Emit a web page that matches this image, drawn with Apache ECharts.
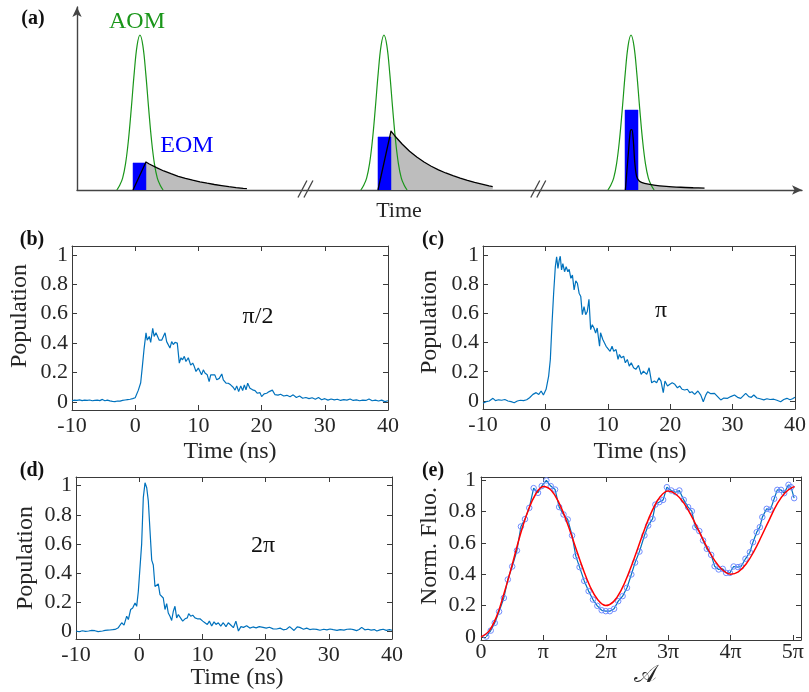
<!DOCTYPE html>
<html><head><meta charset="utf-8">
<script src="https://cdn.jsdelivr.net/npm/echarts@6/dist/echarts.min.js"></script>
<style>html,body{margin:0;padding:0;background:#fff}#c{width:809px;height:692px}</style>
</head><body><div id="c"></div>
<script>
// ---------- Panel (a) schematic (arbitrary units) ----------
const aomCenters = [8.71, 42.46, 76.63];
const aomOffsets = [-3.2,-2.8,-2.4,-2.0,-1.6,-1.2,-0.8,-0.4,0,0.4,0.8,1.2,1.6,2.0,2.4,2.8,3.2];
const aomShape   = [0.0,0.026,0.065,0.143,0.271,0.446,0.637,0.789,0.847,0.789,0.637,0.446,0.271,0.143,0.065,0.026,0.0];
const eomLeft   = [7.75, 41.63, 75.8];
const eomRight  = [9.54, 43.43, 77.6];
const eomHeight = [0.148, 0.290, 0.437];
const resp1X = [7.75,9.54,10,11,12,13,14,15,16,17,18,19,20,21,22,23,23.5];
const resp1Y = [0,0.153,0.142,0.122,0.104,0.089,0.075,0.064,0.054,0.045,0.037,0.030,0.024,0.018,0.013,0.009,0.008];
const resp2X = [41.63,43.43,44,45,46,47,48,49,50,51,52,53,54,55,56,57,57.5];
const resp2Y = [0,0.322,0.294,0.25,0.212,0.18,0.153,0.13,0.11,0.093,0.078,0.065,0.053,0.042,0.032,0.022,0.018];
const resp3X = [75.85,76.3,76.55,76.75,76.95,77.15,77.4,77.8,78.5,79.8,81.5,83.5,85.3,86.8];
const resp3Y = [0,0.22,0.325,0.33,0.27,0.15,0.075,0.048,0.036,0.027,0.02,0.015,0.012,0.01];
const breakX = [31.6, 63.8];

// ---------- Panel (b) pi/2 ----------
const bTime = [-10,-9.6,-9.2,-8.8,-8.4,-8,-7.6,-7.2,-6.8,-6.4,-6,-5.6,-5.2,-4.8,-4.4,-4,-3.6,-3.2,-2.8,-2.4,-2,-1.6,-1.2,-0.8,-0.4,
 0,0.24,0.5,0.87,1.13,1.39,1.71,1.9,2.23,2.45,
 2.77,3.0,3.29,3.55,3.8,4.19,4.45,4.72,4.98,5.24,
 5.5,5.77,6.03,6.3,6.66,6.98,7.25,7.5,7.77,8.03,
 8.4,8.78,9.1,9.35,9.62,9.99,10.25,10.5,10.78,11.04,
 11.4,11.7,11.95,12.26,12.6,12.9,13.3,13.7,13.94,14.37,
 14.73,15.1,15.5,15.8,16.06,16.37,16.7,17.0,17.27,17.53,
 17.8,18.16,18.58,18.96,19.3,19.75,20.0,20.4,20.8,21.2,
 21.7,22.1,22.6,23.0,23.5,24,24.5,25,25.5,26,
 26.5,27,27.5,28,28.5,29,29.5,30,30.5,31,31.5,32,32.5,33,33.5,34,34.5,35,35.5,36,36.5,37,37.5,38,38.5,39,39.5,40];
const bValue = [0.008,0.012,0.010,0.014,0.009,0.012,0.010,0.013,0.008,0.011,0.012,0.009,0.017,0.008,0.012,0.007,0.004,0.002,0.006,0.005,0.010,0.013,0.016,0.018,0.022,
 0.028,0.036,0.08,0.13,0.24,0.355,0.47,0.42,0.445,0.404,
 0.50,0.445,0.47,0.457,0.42,0.42,0.43,0.47,0.41,0.40,
 0.366,0.41,0.39,0.405,0.40,0.264,0.30,0.286,0.31,0.275,
 0.30,0.25,0.264,0.24,0.207,0.23,0.218,0.184,0.218,0.196,
 0.184,0.138,0.184,0.172,0.184,0.15,0.16,0.19,0.15,0.127,
 0.127,0.116,0.10,0.08,0.109,0.07,0.109,0.077,0.116,0.082,
 0.127,0.093,0.082,0.077,0.059,0.063,0.036,0.055,0.059,0.07,
 0.08,0.05,0.046,0.052,0.04,0.045,0.035,0.048,0.03,0.04,
 0.025,0.03,0.022,0.028,0.018,0.03,0.015,0.022,0.012,0.02,0.014,0.018,0.01,0.016,0.012,0.02,0.01,0.014,0.008,0.012,0.01,0.02,0.008,0.012,0.006,0.012,0.002,0.008];

// ---------- Panel (c) pi ----------
const cTime = [-10,-9.5,-9,-8.4,-8,-7.5,-7,-6.5,-6,-5.5,-5,-4.5,-4,-3.5,-3,
 -2.54,-2.0,-1.48,-1.06,-0.68,-0.32,0.11,0.52,0.79,1.06,
 1.32,1.59,1.8,2.01,2.22,2.38,2.59,2.8,3.07,3.33,
 3.6,3.81,4.08,4.33,4.6,4.87,5.13,5.4,5.67,5.92,
 6.19,6.46,6.71,6.98,7.25,7.51,7.78,8.05,8.3,8.68,
 8.84,9.2,9.52,9.73,10.05,10.37,10.68,10.95,11.32,11.64,
 11.86,12.17,12.54,12.81,13.13,13.44,13.76,14.13,14.49,14.92,
 15.35,15.71,15.98,16.24,16.62,17.03,17.46,17.83,18.2,18.52,
 18.89,19.16,19.57,19.95,20.32,20.74,21.16,21.54,21.9,22.33,
 22.75,23.13,23.49,23.92,24.44,24.9,25.3,25.7,26.0,26.5,
 27.1,27.6,28.1,28.6,29.2,29.7,30.3,30.8,31.3,31.7,
 32.1,32.6,33.0,33.4,33.9,34.4,35.0,35.5,36.0,36.6,
 37.1,37.7,38.2,38.7,39.2,39.6,40];
const cValue = [-0.016,-0.005,0.0,0.018,0.002,0.008,0.005,0.01,0.0,-0.005,-0.012,0.0,0.005,0.002,0.008,
 0.022,0.045,0.057,0.045,0.068,0.041,0.08,0.17,0.284,0.53,
 0.737,0.918,0.986,0.907,0.964,0.99,0.896,0.94,0.884,0.918,
 0.884,0.90,0.839,0.862,0.76,0.821,0.805,0.737,0.714,0.59,
 0.646,0.59,0.612,0.696,0.488,0.522,0.499,0.465,0.499,0.374,
 0.467,0.42,0.408,0.374,0.386,0.34,0.374,0.34,0.352,0.284,
 0.318,0.295,0.306,0.261,0.284,0.238,0.261,0.227,0.216,0.243,
 0.182,0.204,0.216,0.182,0.227,0.124,0.136,0.124,0.159,0.136,
 0.057,0.136,0.102,0.114,0.124,0.114,0.09,0.102,0.08,0.075,
 0.08,0.057,0.063,0.045,0.068,0.04,-0.005,0.04,0.063,0.05,
 0.052,0.03,0.007,0.02,0.018,0.03,0.041,0.025,0.018,0.035,
 0.052,0.03,0.025,0.041,0.02,0.015,0.007,0.015,0.01,0.012,
 0.005,-0.005,0.01,0.018,0.008,0.015,0.025];

// ---------- Panel (d) 2pi ----------
const dTime = [-10,-9.5,-9,-8.5,-8,-7.5,-7,-6.5,-6.2,-5.8,-5.4,-5,
 -4.62,-4.2,-3.83,-3.3,-2.77,-2.4,-1.98,-1.72,-1.35,-1.03,
 -0.66,-0.4,-0.14,0.13,0.39,0.65,0.92,1.19,1.44,1.71,
 1.98,2.23,2.5,2.77,3.02,3.29,3.56,3.81,4.08,4.35,
 4.6,4.87,5.14,5.4,5.66,5.93,6.19,6.46,6.88,7.25,
 7.61,7.83,8.15,8.47,8.83,9.2,9.62,10.05,10.4,10.78,
 11.1,11.47,11.84,12.15,12.52,12.9,13.3,13.73,14.1,14.48,
 14.9,15.3,15.7,16.1,16.5,17.0,17.5,18,18.5,19,
 19.6,20.1,20.6,21.2,21.75,22.3,22.8,23.3,23.8,24.1,
 24.5,25,25.4,26,26.5,27,27.5,28.1,28.6,29.2,
 29.7,30.2,30.7,31.3,31.8,32.4,32.9,33.4,33.9,34.4,
 34.8,35.2,35.7,36.2,36.7,37.2,37.6,38.1,38.6,39.1,39.6,40];
const dValue = [0.0,-0.005,0.002,-0.003,0.0,0.004,0.002,-0.004,-0.012,0.0,0.004,0.006,
 0.007,0.009,0.011,0.023,0.057,0.041,0.102,0.079,0.148,0.158,
 0.193,0.17,0.272,0.272,0.6,0.918,1.02,0.986,0.896,0.69,
 0.488,0.454,0.306,0.318,0.324,0.25,0.261,0.227,0.148,0.188,
 0.124,0.102,0.073,0.136,0.17,0.09,0.113,0.102,0.068,0.084,
 0.09,0.12,0.102,0.109,0.09,0.084,0.084,0.068,0.057,0.045,
 0.068,0.034,0.063,0.045,0.057,0.034,0.057,0.03,0.057,0.041,
 0.023,0.068,0.0,0.03,0.025,0.036,0.02,0.028,0.022,0.03,
 0.025,0.02,0.026,0.015,0.014,0.02,0.008,0.012,0.03,0.025,
 0.004,0.028,0.025,0.012,0.02,0.01,0.014,0.011,0.005,0.012,
 0.008,0.014,0.009,0.004,0.01,0.006,0.012,0.014,0.01,0.003,
 0.01,0.025,0.008,0.012,0.006,0.01,0.0,0.008,0.012,0.004,0.01,0.005];

// ---------- Panel (e) Rabi oscillation (x in units of pi) ----------
const eArea = [0.085,0.156,0.22,0.29,0.366,0.43,0.5,0.576,0.64,0.705,
 0.774,0.844,0.914,0.973,1.048,1.118,1.188,1.253,1.323,1.39,
 1.46,1.52,1.58,1.655,1.725,1.795,1.865,1.935,2.0,2.065,
 2.134,2.2,2.27,2.34,2.41,2.47,2.54,2.62,2.68,2.75,
 2.795,2.86,2.92,2.98,3.05,3.12,3.18,3.25,3.32,3.38,
 3.435,3.5,3.56,3.62,3.69,3.745,3.81,3.875,3.93,3.99,
 4.05,4.12,4.17,4.24,4.31,4.36,4.42,4.47,4.51,4.58,
 4.64,4.70,4.75,4.81,4.86,4.93,4.97,5.02];
const eFluo = [0.002,0.04,0.089,0.161,0.248,0.366,0.449,0.551,0.704,0.751,
 0.823,0.949,0.919,0.962,0.998,0.962,0.94,0.828,0.781,0.749,
 0.647,0.515,0.445,0.357,0.292,0.238,0.198,0.17,0.164,0.164,
 0.179,0.228,0.26,0.313,0.398,0.474,0.544,0.647,0.71,0.753,
 0.844,0.86,0.874,0.955,0.934,0.923,0.934,0.874,0.828,0.802,
 0.70,0.675,0.615,0.562,0.523,0.451,0.43,0.434,0.408,0.408,
 0.449,0.445,0.449,0.498,0.54,0.604,0.668,0.70,0.764,0.817,
 0.812,0.881,0.938,0.938,0.917,0.97,0.955,0.885];
const fitArea = [0,0.125,0.25,0.375,0.5,0.625,0.75,0.875,1.0,1.125,1.25,1.375,1.5,1.625,1.75,1.875,2.0,
 2.125,2.25,2.375,2.5,2.625,2.75,2.875,3.0,3.125,3.25,3.375,3.5,3.625,3.75,3.875,4.0,
 4.125,4.25,4.375,4.5,4.625,4.75,4.875,5.0,5.03];
const fitFluo = [0.0,0.035,0.13,0.285,0.46,0.645,0.80,0.91,0.96,0.935,0.855,0.735,0.59,0.445,0.32,0.235,0.20,
 0.225,0.30,0.415,0.55,0.69,0.81,0.895,0.93,0.91,0.855,0.77,0.67,0.57,0.485,0.425,0.40,
 0.415,0.465,0.545,0.645,0.75,0.85,0.92,0.955,0.957];

const popTicks = [0,0.2,0.4,0.6,0.8,1];
const timeTicks = [-10,0,10,20,30,40];
const areaTicks = [0,1,2,3,4,5];
const areaLabels = ['0','π','2π','3π','4π','5π'];

// ---------- build ----------
const FONT = '"Liberation Serif","Times New Roman",serif';
const AX = '#3a3a3a', TXT = '#262626', BLUE = '#0072BD';
const zip = (a,b) => a.slice(0, Math.min(a.length,b.length)).map((v,i)=>[v,b[i]]);

const grids = [
  {left:77, top:7, width:725, height:183},
  {left:72, top:246, width:316, height:164},
  {left:483, top:246, width:315, height:163},
  {left:76, top:477, width:316, height:162},
  {left:481, top:477, width:320, height:163}
];
const xAxes = [], yAxes = [];
xAxes.push({type:'value', gridIndex:0, min:0, max:100.28,
  axisLine:{show:true, onZero:false, symbol:['none','arrow'], symbolSize:[7,10], lineStyle:{color:'#444', width:1.4}},
  axisTick:{show:false}, axisLabel:{show:false}, splitLine:{show:false}});
yAxes.push({type:'value', gridIndex:0, min:0, max:1,
  axisLine:{show:true, onZero:false, symbol:['none','arrow'], symbolSize:[7,10], lineStyle:{color:'#444', width:1.4}},
  axisTick:{show:false}, axisLabel:{show:false}, splitLine:{show:false}});

function boxAxes(gi, xr, yr, xt, yt, xfmt, xm, ym) {
  const line = {show:true, onZero:false, lineStyle:{color:AX, width:1}};
  const tick = v => ({show:true, inside:true, length:5, customValues:v, lineStyle:{color:AX, width:1}});
  const lab = (v, f, m) => ({show:true, customValues:v, formatter:f, margin:m, color:TXT, fontFamily:FONT, fontSize:22});
  const xi = xAxes.length, yi = yAxes.length;
  xAxes.push({type:'value', gridIndex:gi, min:xr[0], max:xr[1], position:'bottom', axisLine:line, axisTick:tick(xt), axisLabel:lab(xt, xfmt, xm), splitLine:{show:false}});
  xAxes.push({type:'value', gridIndex:gi, min:xr[0], max:xr[1], position:'top', axisLine:line, axisTick:tick(xt), axisLabel:{show:false}, splitLine:{show:false}});
  yAxes.push({type:'value', gridIndex:gi, min:yr[0], max:yr[1], position:'left', axisLine:line, axisTick:tick(yt), axisLabel:lab(yt, v=>String(v), ym), splitLine:{show:false}});
  yAxes.push({type:'value', gridIndex:gi, min:yr[0], max:yr[1], position:'right', axisLine:line, axisTick:tick(yt), axisLabel:{show:false}, splitLine:{show:false}});
  return [xi, yi];
}
const tf = v => String(v);
const [bx, by] = boxAxes(1, [-10,40], [-0.055,1.06], timeTicks, popTicks, tf, 5, 4);
const [cx, cy] = boxAxes(2, [-10,40], [-0.055,1.06], timeTicks, popTicks, tf, 5, 4);
const [dx, dy] = boxAxes(3, [-10,40], [-0.055,1.06], timeTicks, popTicks, tf, 5, 4);
const [ex, ey] = boxAxes(4, [0,5.13], [-0.02,1.02], areaTicks, popTicks, v => areaLabels[areaTicks.indexOf(v)] || '', 1, 5);

const series = [];
const respX = [resp1X, resp2X, resp3X], respY = [resp1Y, resp2Y, resp3Y];
for (let i = 0; i < 3; i++) {
  series.push({type:'line', xAxisIndex:0, yAxisIndex:0, data:zip(respX[i], respY[i]), symbol:'none',
    lineStyle:{width:0, opacity:0}, areaStyle:{color:'#bdbdbd', opacity:1}, z:1, silent:true});
}
for (let i = 0; i < 3; i++) {
  series.push({type:'line', xAxisIndex:0, yAxisIndex:0,
    data:[[eomLeft[i],0],[eomLeft[i],eomHeight[i]],[eomRight[i],eomHeight[i]],[eomRight[i],0]],
    symbol:'none', lineStyle:{width:0.5, color:'#0000ff'}, areaStyle:{color:'#0000ff', opacity:1}, z:2, silent:true});
}
for (let i = 0; i < 3; i++) {
  series.push({type:'line', xAxisIndex:0, yAxisIndex:0,
    data:aomOffsets.map((o,k)=>[aomCenters[i]+o, aomShape[k]]),
    symbol:'none', smooth:0.4, lineStyle:{width:1.2, color:'#1a961a'}, z:3, silent:true});
}
for (let i = 0; i < 3; i++) {
  series.push({type:'line', xAxisIndex:0, yAxisIndex:0, data:zip(respX[i], respY[i]), symbol:'none',
    smooth: i === 2 ? 0.3 : false,
    lineStyle:{width:1.3, color:'#000', join:'round'}, z:4, silent:true});
}
const trace = (xi, yi, t, v) => ({type:'line', xAxisIndex:xi, yAxisIndex:yi, data:zip(t,v), symbol:'none',
  lineStyle:{width:1.2, color:BLUE}, silent:true});
series.push(trace(bx, by, bTime, bValue));
series.push(trace(cx, cy, cTime, cValue));
series.push(trace(dx, dy, dTime, dValue));
series.push({type:'line', xAxisIndex:ex, yAxisIndex:ey, data:zip(eArea, eFluo), symbol:'circle', symbolSize:5.5,
  lineStyle:{width:1.2, color:BLUE}, itemStyle:{color:'rgba(255,255,255,0)', borderColor:'#6f8cff', borderWidth:1}, z:3, silent:true});
series.push({type:'line', xAxisIndex:ex, yAxisIndex:ey, data:zip(fitArea, fitFluo), symbol:'none', smooth:0.4,
  lineStyle:{width:1.5, color:'#ff0000'}, z:4, silent:true});

const chart = echarts.init(document.getElementById('c'), null, {renderer:'canvas'});
chart.setOption({animation:false, backgroundColor:'#fff', grid:grids, xAxis:xAxes, yAxis:yAxes, series:series});

function txt(x, y, s, size, opts) {
  opts = opts || {};
  return {type:'text', x:x, y:y, rotation:opts.rot || 0, z:10, silent:true,
    style:{text:s, font:(opts.bold?'bold ':'') + size + 'px ' + (opts.family || FONT), fill:opts.color || TXT,
      textAlign:'center', textVerticalAlign:'middle', align:'center', verticalAlign:'middle'}};
}
const g = [];
breakX.forEach(bxv => {
  const p = chart.convertToPixel({gridIndex:0}, [bxv, 0]);
  [0, 6].forEach(dx0 => g.push({type:'line', z:10, silent:true,
    shape:{x1:p[0]-7.5+dx0, y1:p[1]+7.5, x2:p[0]+1.5+dx0, y2:p[1]-9.5}, style:{stroke:'#444', lineWidth:1.3}}));
});
g.push(txt(33, 19, '(a)', 20, {bold:true, color:'#111'}));
g.push(txt(137, 22, 'AOM', 24, {color:'#1a961a'}));
g.push(txt(187, 146, 'EOM', 24, {color:'#0000ff'}));
g.push(txt(399, 211, 'Time', 22));
g.push(txt(32, 240, '(b)', 20, {bold:true, color:'#111'}));
g.push(txt(20, 316, 'Population', 24, {rot:Math.PI/2}));
g.push(txt(230, 452, 'Time (ns)', 24));
g.push(txt(258, 317, 'π/2', 24, {color:'#111'}));
g.push(txt(433, 240, '(c)', 20, {bold:true, color:'#111'}));
g.push(txt(430, 322, 'Population', 24, {rot:Math.PI/2}));
g.push(txt(640, 452, 'Time (ns)', 24));
g.push(txt(661, 311, 'π', 24, {color:'#111'}));
g.push(txt(32, 471, '(d)', 20, {bold:true, color:'#111'}));
g.push(txt(26, 558, 'Population', 24, {rot:Math.PI/2}));
g.push(txt(237, 678, 'Time (ns)', 24));
g.push(txt(263, 546, '2π', 24, {color:'#111'}));
g.push(txt(433, 471, '(e)', 20, {bold:true, color:'#111'}));
g.push(txt(430, 546, 'Norm. Fluo.', 24, {rot:Math.PI/2}));
g.push(txt(645, 676, '𝒜', 24, {family:'"DejaVu Serif","DejaVu Sans",serif'}));
chart.setOption({graphic:g});
</script></body></html>
